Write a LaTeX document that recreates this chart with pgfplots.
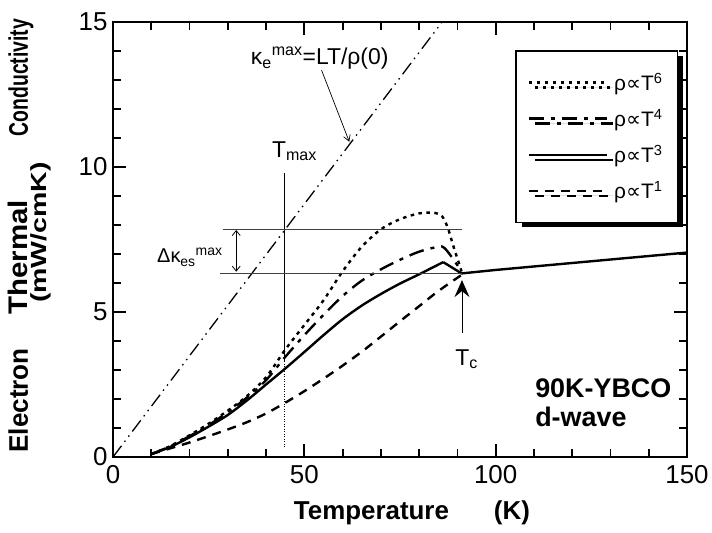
\documentclass[border=0pt]{standalone}
\usepackage{fontspec}
\setmainfont{Liberation Sans}
\newfontfamily\dejavu{DejaVu Sans}
\usepackage{graphicx}
\usepackage{pgfplots}
\pgfplotsset{compat=1.18}
\usetikzlibrary{arrows.meta,shadows}
\newcommand{\fsz}[1]{\fontsize{#1}{#1}\selectfont}
\newcommand{\prop}{{\dejavu ∝}}
\begin{document}
\begin{tikzpicture}
\path (-113bp,-76bp) rectangle (599bp,457bp);
\begin{axis}[
  at={(0,0)}, anchor=south west,
  scale only axis, width=574bp, height=435bp,
  xmin=0, xmax=150, ymin=0, ymax=15,
  xtick={0,50,100,150}, ytick={0,5,10,15},
  minor x tick num=4, minor y tick num=4,
  tick align=inside,
  major tick length=13bp, minor tick length=8bp,
  tick style={black, line width=1.8bp},
  axis line style={line width=2bp},
  /pgf/number format/assume math mode=true,
  ticklabel style={font=\fsz{26}},
  xticklabel style={yshift=-5bp},
  yticklabel style={xshift=-2bp},
  clip mode=individual,
  legend style={at={(0.7003,0.9356)}, anchor=north west, draw=black, line width=1.6bp, fill=white,
     drop shadow={shadow xshift=6bp, shadow yshift=-5bp, fill=black, opacity=1},
     font=\fsz{21}, inner xsep=12bp, inner ysep=19bp, row sep=11bp, cells={anchor=west},
     nodes={inner sep=3bp},
     /tikz/every odd column/.append style={column sep=3bp}},
  legend image code/.code={\draw[#1] (0bp,0bp) -- (78bp,0bp);},
]
% T^6
\addplot[black, line width=2.4bp, dash pattern=on 3.5bp off 4.5bp, smooth, tension=0.5] coordinates {
(10,0.1) (15,0.38) (20,0.75) (25,1.15) (30,1.6) (35,2.1) (40,2.75) (45,3.7) (50,4.55) (55,5.4) (60,6.4) (65,7.25) (70,7.85) (75,8.2) (80,8.4) (84,8.42) (86,8.3) (87.5,7.9) (89,7.25) (91.1,6.4)};
\addlegendentry{ρ\prop T\textsuperscript{6}}
% T^4
\addplot[black, line width=2.4bp, dash pattern=on 15bp off 7bp on 4bp off 7bp, smooth, tension=0.5] coordinates {
(10,0.1) (15,0.37) (20,0.72) (25,1.1) (30,1.55) (35,2.05) (40,2.65) (45,3.45) (50,4.2) (55,4.9) (60,5.55) (65,6.08) (70,6.47) (75,6.8) (80,7.08) (85,7.25) (86.5,7.22) (88.5,6.9) (91.1,6.4)};
\addlegendentry{ρ\prop T\textsuperscript{4}}
% T^3
\addplot[black, line width=2.4bp, smooth, tension=0.5] coordinates {
(10,0.1) (15,0.35) (20,0.68) (25,1.05) (30,1.45) (35,1.95) (40,2.5) (45,3.05) (50,3.62) (55,4.2) (60,4.75) (65,5.22) (70,5.62) (75,5.98) (80,6.3) (86.3,6.72)};
\addlegendentry{ρ\prop T\textsuperscript{3}}
% T^1
\addplot[black, line width=2.4bp, dash pattern=on 9bp off 7bp, smooth, tension=0.5] coordinates {
(10,0.1) (15,0.3) (20,0.5) (25,0.72) (30,0.95) (35,1.2) (40,1.5) (45,1.87) (50,2.27) (55,2.7) (60,3.15) (65,3.63) (70,4.15) (75,4.68) (80,5.2) (85,5.72) (91.1,6.28)};
\addlegendentry{ρ\prop T\textsuperscript{1}}
% T^3 drop to Tc and normal state
\addplot[forget plot, black, line width=2.4bp] coordinates {(86.3,6.72) (91.1,6.33) (100,6.45) (150,7.05)};
% kappa_e max line
\addplot[forget plot, black, line width=1.3bp, dash pattern=on 14bp off 5bp on 1.5bp off 5bp on 1.5bp off 5bp] coordinates {(0,0) (86,15)};

% annotations
\draw[line width=0.7bp] (axis cs:44.7,9.8) -- (axis cs:44.7,3.3);
\draw[line width=0.7bp, dash pattern=on 1bp off 1.5bp] (axis cs:44.7,3.3) -- (axis cs:44.7,0.35);
\draw[line width=0.8bp, black!75] (axis cs:28.7,7.86) -- (axis cs:91.3,7.86);
\draw[line width=0.8bp, black!75] (axis cs:28.0,6.34) -- (axis cs:91.3,6.34);
\draw[line width=0.8bp, {Straight Barb[length=5bp,width=8bp]}-{Straight Barb[length=5bp,width=8bp]}] (axis cs:32.2,7.83) -- (axis cs:32.2,6.39);
\draw[line width=0.7bp, -{Straight Barb[length=6bp,width=7bp]}] (axis cs:54.5,13.34) -- (axis cs:61.75,10.87);
\draw[line width=0.9bp, -{Stealth[length=17bp,width=15bp,inset=6bp]}] (axis cs:91.2,4.28) -- (axis cs:91.2,6.1);

\node[anchor=base west, font=\fsz{23}, inner sep=0] at (axis cs:36.0,13.52) {κ\textsubscript{e}\textsuperscript{max}=LT/ρ(0)};
\node[anchor=base west, font=\fsz{23}, inner sep=0] at (axis cs:41.5,10.34) {T\textsubscript{max}};
\node[anchor=base west, font=\fsz{20}, inner sep=0] at (axis cs:11.5,6.69) {Δκ\textsubscript{es}\textsuperscript{max}};
\node[anchor=base west, font=\fsz{23}, inner sep=0] at (axis cs:89.4,3.17) {T\textsubscript{c}};

\node[anchor=base west, font=\bfseries\fsz{27}, inner sep=0] at (axis cs:110.3,2.05) {90K-YBCO};
\node[anchor=base west, font=\bfseries\fsz{27}, inner sep=0] at (axis cs:110.3,1.05) {d-wave};

% axis labels
\node[anchor=base, font=\bfseries\fsz{26}, inner sep=0] at (axis description cs:0.4503,-0.1448) {Temperature};
\node[anchor=base, font=\bfseries\fsz{26}, inner sep=0] at (axis description cs:0.695,-0.1448) {(K)};
\node[rotate=90, anchor=base, font=\bfseries\fsz{27}, inner sep=0] at (axis description cs:-0.1481,0.130) {\scalebox{0.97}[1]{Electron}};
\node[rotate=90, anchor=base, font=\bfseries\fsz{27}, inner sep=0] at (axis description cs:-0.1481,0.4586) {\scalebox{1.095}[1]{Thermal}};
\node[rotate=90, anchor=base, font=\bfseries\fsz{27}, inner sep=0] at (axis description cs:-0.1481,0.8724) {\scalebox{0.72}[1]{Conductivity}};
\node[rotate=90, anchor=base, font=\bfseries\fsz{22}, inner sep=0] at (axis description cs:-0.115,0.516) {\scalebox{1.3}[1]{(mW/cmK)}};
\end{axis}
\end{tikzpicture}
\end{document}
